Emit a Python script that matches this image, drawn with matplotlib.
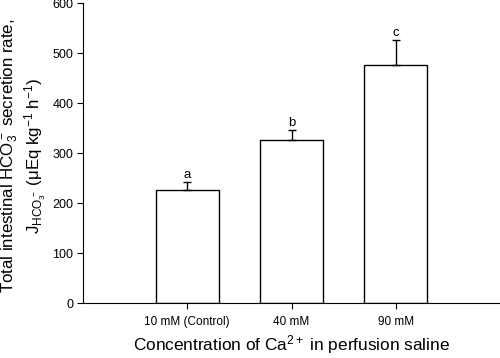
import numpy as np
import matplotlib
matplotlib.use("Agg")
import matplotlib.pyplot as plt

plt.rcParams['font.family'] = ['Liberation Sans', 'DejaVu Sans']
plt.rcParams['mathtext.fontset'] = 'custom'
plt.rcParams['mathtext.rm'] = 'Liberation Sans'
plt.rcParams['mathtext.it'] = 'Liberation Sans'

groups = ['10 mM (Control)', '40 mM', '90 mM']
means = [226, 326, 476]
sem = [16, 20, 50]
letters = ['a', 'b', 'c']

fig = plt.figure(figsize=(5.0, 3.58), dpi=100)
ax = fig.add_axes([0.166, 0.153, 0.834, 0.838])

ind = np.arange(1, len(groups) + 1)
width = 0.6  # bar width

ax.bar(ind, means, width, color='white', edgecolor='black', linewidth=1.0, zorder=2)
ax.errorbar(ind, means, yerr=[np.zeros(len(sem)), sem], fmt='none', ecolor='black',
            elinewidth=1.0, capsize=3, capthick=1.0, zorder=3)

for x, m, s, lab in zip(ind, means, sem, letters):
    ax.text(x, m + s + 2, lab, ha='center', va='bottom', fontsize=9.5)

ax.set_xlim(0, 4)
ax.set_ylim(0, 600)
ax.set_yticks(np.arange(0, 601, 100))
ax.set_xticks(ind)
ax.set_xticklabels(groups, fontsize=8.5)
ax.tick_params(axis='y', labelsize=9, length=4, width=0.8, direction='out', pad=3)
ax.tick_params(axis='x', length=4, width=0.8, direction='out', pad=5)

for side in ['top', 'right']:
    ax.spines[side].set_visible(False)
for side in ['left', 'bottom']:
    ax.spines[side].set_linewidth(0.8)

ax.set_xlabel('Concentration of Ca$^{2+}$ in perfusion saline', fontsize=12.4, labelpad=4)
ax.set_ylabel('Total intestinal HCO$_3^-$ secretion rate,\n'
              'J$_{HCO_3^-}$ ($\\mu$Eq kg$^{-1}$ h$^{-1}$)', fontsize=12.2,
              linespacing=1.12)
ax.yaxis.set_label_coords(-0.085, 0.49)

fig.savefig('out.png', dpi=100)
